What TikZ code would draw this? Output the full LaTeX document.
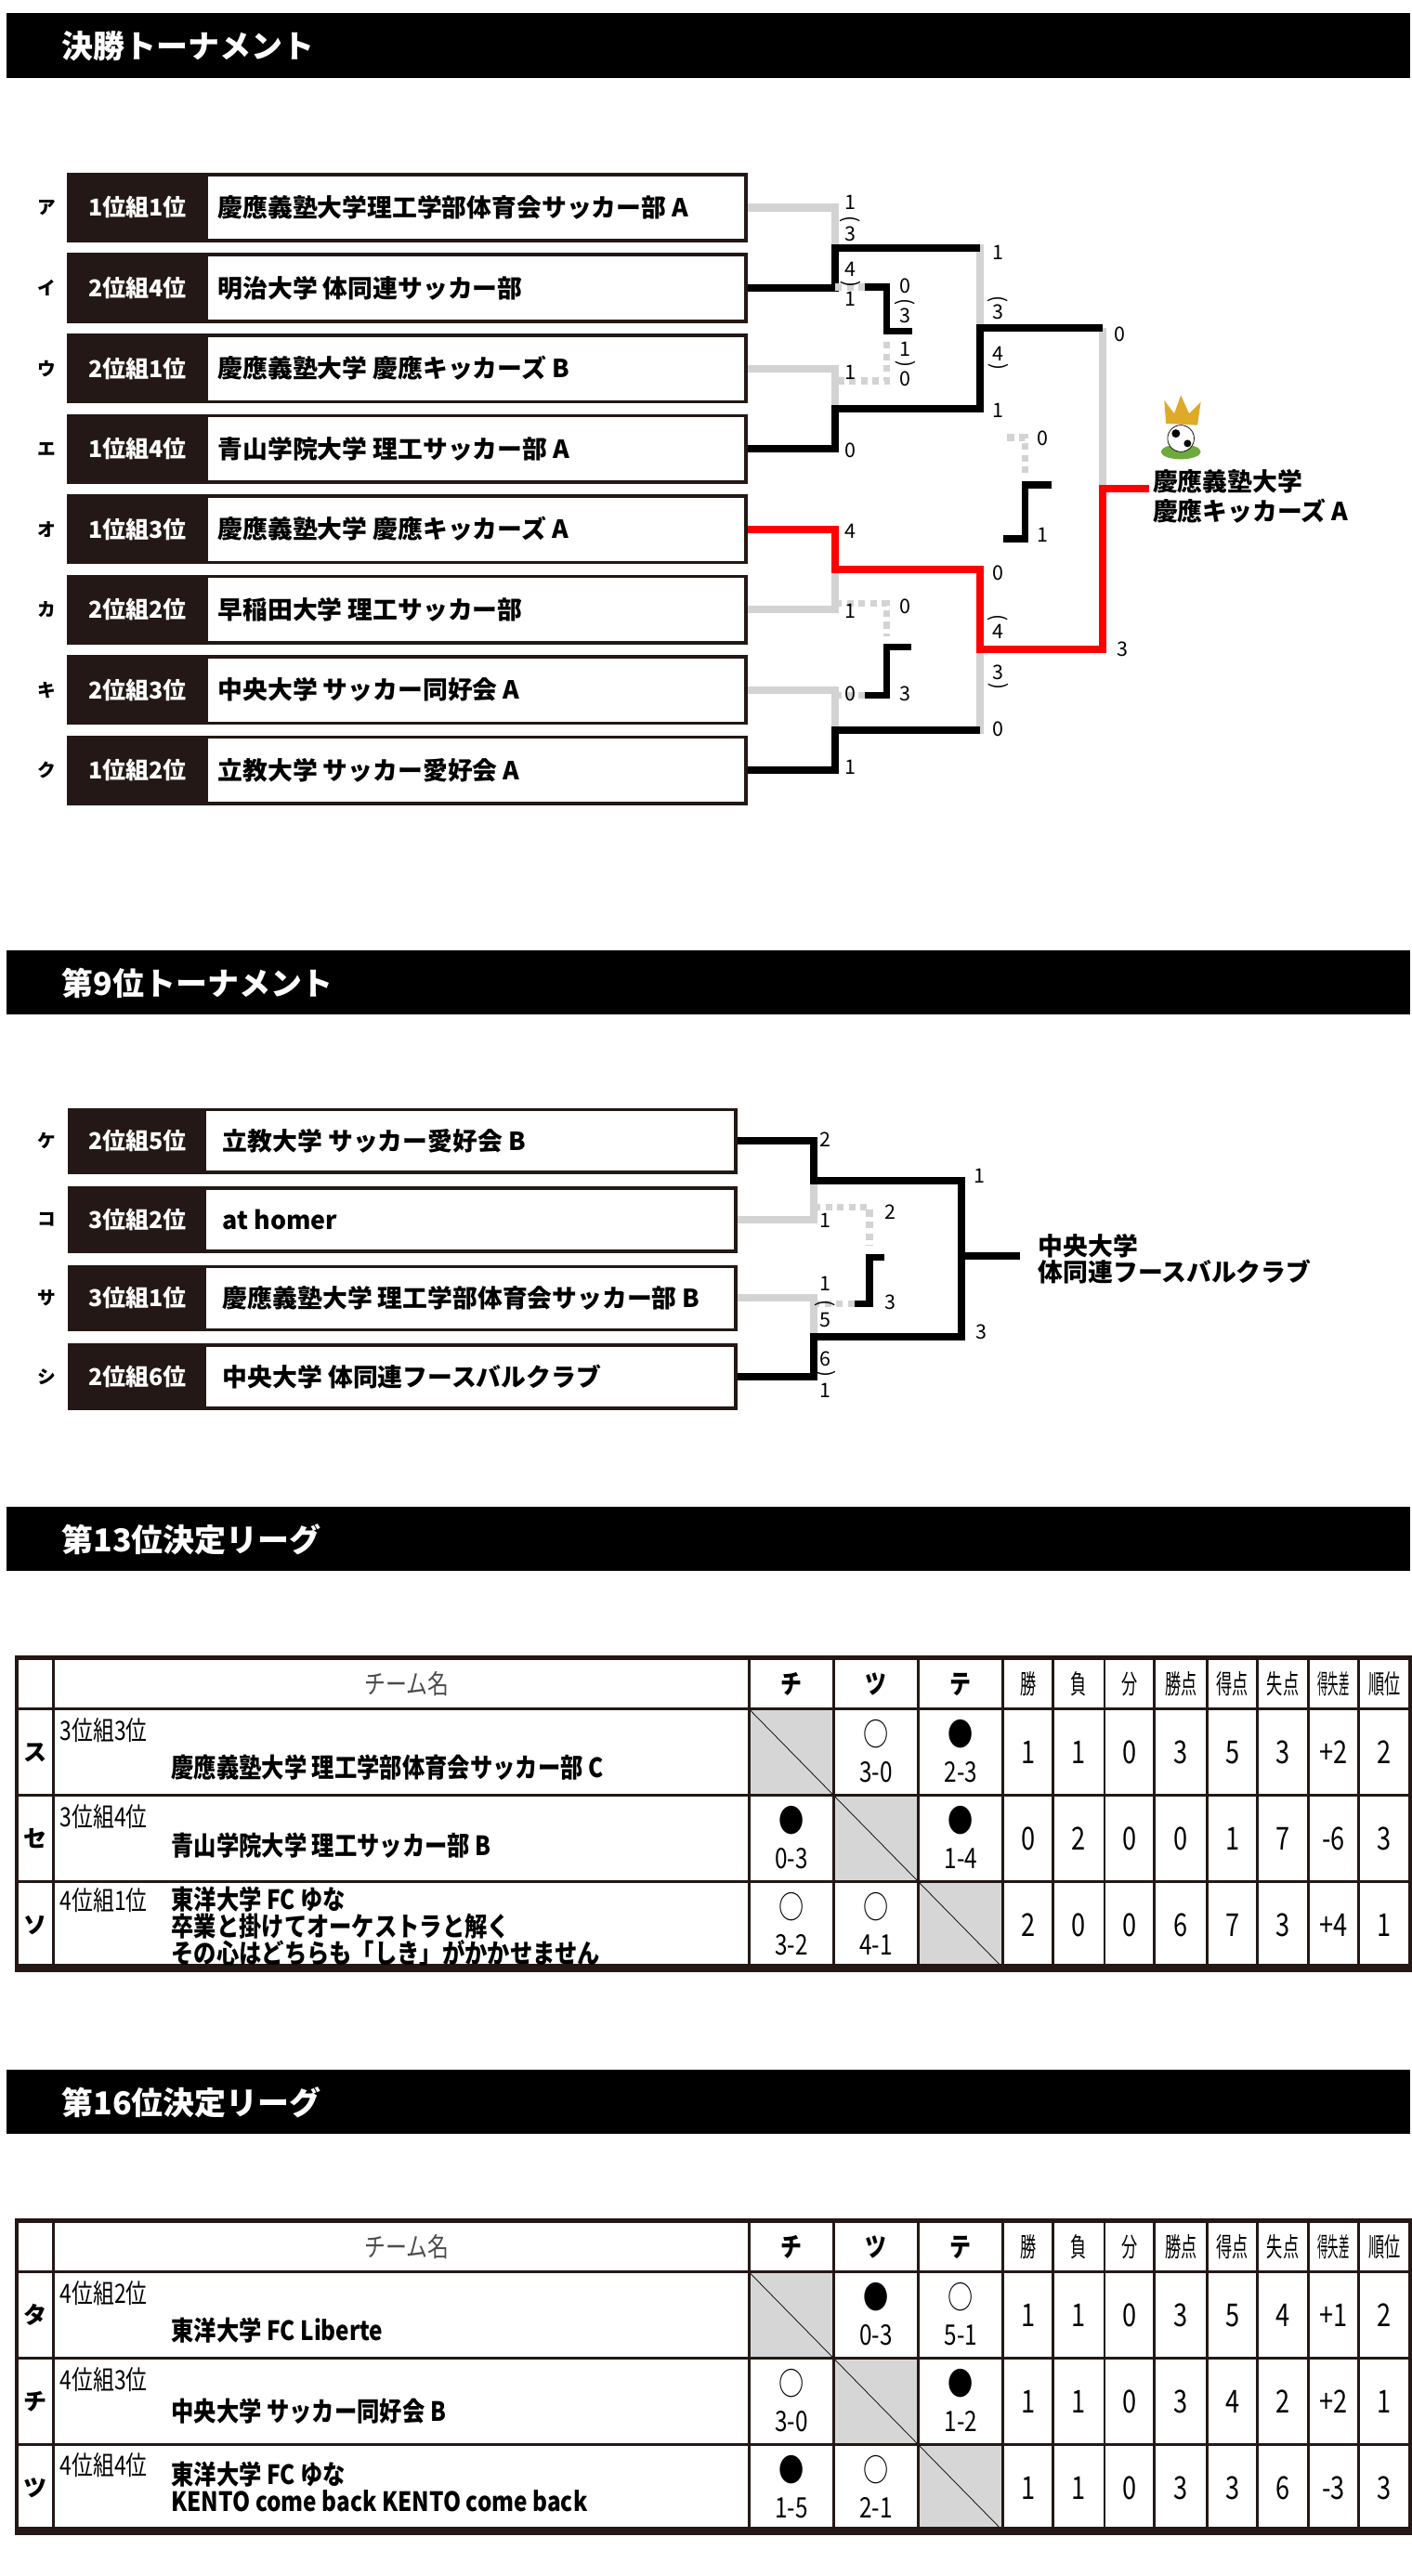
\documentclass[tikz,border=0pt]{standalone}
\usepackage{fontspec}
\setmainfont{Noto Sans CJK JP}
\usetikzlibrary{positioning}
\definecolor{boxc}{RGB}{35,24,21}
\definecolor{lgray}{RGB}{211,211,211}
\definecolor{cellgray}{RGB}{214,214,214}
\definecolor{crowngold}{RGB}{222,170,40}
\definecolor{turf}{RGB}{110,170,60}

\newcommand\pkopen{\rotatebox{-90}{(}}
\newcommand\pkclose{\rotatebox{90}{(}}

\tikzset{
  bartext/.style={text=white,font=\bfseries\fontsize{19}{19}\selectfont,anchor=west,inner sep=0},
  seedbox/.style={fill=boxc,text=white,font=\bfseries\fontsize{14}{14}\selectfont,anchor=west,inner sep=0},
  teambox/.style={draw=boxc,line width=2pt,anchor=west,inner sep=0},
  teamtext/.style={font=\bfseries\fontsize{15}{15}\selectfont,anchor=west,inner sep=0},
  lettertext/.style={font=\bfseries\fontsize{11}{11}\selectfont,inner sep=0},
  sc/.style={font=\fontsize{12}{12}\selectfont,inner sep=0},
  win/.style={line width=4.5pt,black},
  lose/.style={line width=4.5pt,lgray},
  champ/.style={line width=4.5pt,red},
  pkwin/.style={line width=4pt,black},
  pklose/.style={line width=4pt,lgray,dash pattern=on 4pt off 3pt},
  tx/.style={font=\fontsize{15}{15}\selectfont,inner sep=0,xscale=.8},
  txb/.style={font=\bfseries\fontsize{16}{16}\selectfont,inner sep=0,xscale=.85,anchor=west},
  gridline/.style={line width=1.6pt,boxc},
}

% mark and score of one match cell
\newcommand\res[5]{%
  \node[tx,font=\fontsize{19}{19}\selectfont] (#1a) at (#2,#3+15) {#4};
  \node[tx,font=\fontsize{17}{17}\selectfont] (#1b) at (#2,#3+38) {#5};}
% wins, losses, draws, points, goals for, against, difference, rank
\newcommand\stats[9]{%
  \foreach \v/\x [count=\j] in {#2/619,#3/649.5,#4/680,#5/711,#6/742,#7/772.5,#8/803,#9/833.5}
    \node[tx,font=\fontsize{19}{19}\selectfont] (st#1-\j) at (\x,#1+26) {\v};}
\newcommand\tgrid[2]{%
  \fill[cellgray] (451,#1+31) rectangle (502,#1+83);
  \fill[cellgray] (502,#1+83) rectangle (553,#1+135);
  \fill[cellgray] (553,#1+135) rectangle (604,#1+187);
  \draw[thin] (451,#1+31) -- (604,#1+187);
  \foreach \x in {32,451,502,553,604,634,665,695,727,757,788,818}
    \draw[gridline] (\x,#1) -- (\x,#1+187);
  \foreach \d in {31,83,135}
    \draw[gridline] (10,#1+\d) -- (849,#1+\d);
  \draw[line width=2.5pt,boxc] (10,#1) rectangle (849,#1+187);
  \draw[line width=5pt,boxc] (8.75,#1+187) -- (850.25,#1+187);
  \node[tx,text=black!70,font=\fontsize{16}{16}\selectfont] (#2h0) at (245,#1+16) {チーム名};
  \foreach \t/\x [count=\j] in {チ/476.5,ツ/527.5,テ/578.5}
    \node[tx,font=\bfseries\fontsize{16}{16}\selectfont] (#2h\j) at (\x,#1+16) {\t};
  \foreach \t/\x [count=\j] in {勝/619,負/649.5,分/680,勝点/711,得点/742,失点/772.5,順位/833.5}
    \node[tx,xscale=.75,font=\fontsize{16}{16}\selectfont] (#2c\j) at (\x,#1+16) {\t};
  \node[tx,xscale=.5,font=\fontsize{16}{16}\selectfont] (#2c8) at (803,#1+16) {得失差};
}

\begin{document}
\begin{tikzpicture}[x=1pt,y=-1pt]
\useasboundingbox (0,0) rectangle (850,1551);
\fill[white] (0,0) rectangle (850,1551);

% section bars
\foreach \y/\t [count=\i] in {8/決勝トーナメント,572/第9位トーナメント,907/第13位決定リーグ,1246/第16位決定リーグ}{
  \fill (4,\y) rectangle (849,\y+39);
  \node[bartext] (h\i) at (37,\y+20) {\t};
}

% final tournament rows
\foreach \k/\s/\t [count=\i] in {ア/1位組1位/{慶應義塾大学理工学部体育会サッカー部 A},イ/2位組4位/{明治大学 体同連サッカー部},ウ/2位組1位/{慶應義塾大学 慶應キッカーズ B},エ/1位組4位/{青山学院大学 理工サッカー部 A},オ/1位組3位/{慶應義塾大学 慶應キッカーズ A},カ/2位組2位/{早稲田大学 理工サッカー部},キ/2位組3位/{中央大学 サッカー同好会 A},ク/1位組2位/{立教大学 サッカー愛好会 A}}{
  \pgfmathsetmacro\y{125+48.4*(\i-1)}
  \node[seedbox,minimum width=85,minimum height=40] (s\i) at (40,\y) {\s};
  \node[teambox,minimum width=408,minimum height=40] (r\i) at (40,\y) {};
  \node[teamtext] (t\i) at (131,\y) {\t};
  \node[lettertext] (k\i) at (28,\y) {\k};
}

% final bracket
\draw[lose] (r1.east) -| (503,149.2) -- (590,149.2) -- (590,197.6);
\draw[lose] (r3.east) -| (503,246);
\draw[lose] (r6.east) -| (503,342.8);
\draw[lose] (r7.east) -| (503,439.6) -- (590,439.6) -- (590,391.2);
\draw[lose] (664,197.6) -- (664,294.4);
\draw[win] (r2.east) -| (503,149.2) -- (590,149.2);
\draw[win] (r4.east) -| (503,246) -- (590,246) -- (590,197.6) -- (664,197.6);
\draw[win] (r8.east) -| (503,439.6) -- (590,439.6);
\coordinate (champ1) at (692,294.4);
\draw[champ] (r5.east) -| (503,342.8) -- (590,342.8) -- (590,391.2) -- (664,391.2) -- (664,294.4) -- (champ1);
% small brackets
\draw[pklose] (503,172.8) -- (520.5,172.8);
\draw[pkwin] (520.5,172.8) -- (534,172.8) -- (534,199.6) -- (549,199.6);
\draw[pklose] (534,206) -- (534,229.3) -- (503,229.3);
\draw[pklose] (606.5,263.4) -- (617,263.4) -- (617,285.4);
\draw[pkwin] (633.3,292) -- (617,292) -- (617,324.4) -- (603.8,324.4);
\draw[pklose] (503,363.4) -- (534,363.4) -- (534,382.9);
\draw[pkwin] (548.7,389.7) -- (534,389.7) -- (534,418.7) -- (520.6,418.7);
\draw[pklose] (520.6,418.7) -- (503,418.7);

\foreach \x/\y/\t [count=\i] in {512/122/1,512/132/{\pkopen},512/141/3,512/162/4,512/171/{\pkclose},512/180/1,
  545/172/0,545/182/{\pkopen},545/190/3,545/210/1,545/219/{\pkclose},545/228/0,512/224/1,512/271/0,
  601/152/1,601/180/{\pkopen},601/188/3,601/213/4,601/221/{\pkclose},601/247/1,674/201/0,628/264/0,628/322/1,
  512/320/4,512/368/1,545/365/0,545/418/3,512/418/0,512/462/1,
  601/345/0,601/372/{\pkopen},601/380/4,601/405/3,601/413/{\pkclose},601/439/0,676/391/3}
  \node[sc] (fs\i) at (\x,\y) {\t};

% champion icon
\fill[turf] (711,272) ellipse (12 and 4.5);
\draw[fill=white] (711,264) circle (8);
\fill (708,261) circle (2.5) (715,267) circle (2.2);
\fill[crowngold] (702,255) -- (701,241) -- (707,249) -- (711,238) -- (716,249) -- (723,242) -- (721,256) -- cycle;
\node[teamtext,align=left,font=\bfseries\fontsize{15}{18}\selectfont] (w1) at (694,299) {慶應義塾大学\\慶應キッカーズ A};

% 9th place rows
\foreach \k/\s/\t [count=\i] in {ケ/2位組5位/{立教大学 サッカー愛好会 B},コ/3位組2位/{at homer},サ/3位組1位/{慶應義塾大学 理工学部体育会サッカー部 B},シ/2位組6位/{中央大学 体同連フースバルクラブ}}{
  \pgfmathsetmacro\y{687+47.3*(\i-1)}
  \node[seedbox,minimum width=83,minimum height=38] (ns\i) at (41,\y) {\s};
  \node[teambox,minimum width=401,minimum height=38] (q\i) at (41,\y) {};
  \node[teamtext] (nt\i) at (134,\y) {\t};
  \node[lettertext] (nk\i) at (28,\y) {\k};
}
\draw[lose] (q2.east) -| (490,711);
\draw[lose] (q3.east) -| (490,805);
\draw[lose] (579,711) -- (579,756);
\coordinate (champ2) at (614,756);
\draw[win] (q1.east) -| (490,711) -- (579,711) -- (579,756) -- (champ2);
\draw[win] (q4.east) -| (490,805) -- (579,805) -- (579,756);
\draw[pklose] (490,727) -- (523.5,727) -- (523.5,750);
\draw[pkwin] (532.5,757) -- (523.5,757) -- (523.5,785) -- (514.5,785);
\draw[pklose] (514.5,785) -- (490,785);
\foreach \x/\y/\t [count=\i] in {497/686/2,497/735/1,536/730/2,536/784/3,497/773/1,497/785/{\pkopen},497/795/5,
  497/818/6,497/827/{\pkclose},497/837/1,590/708/1,591/802/3}
  \node[sc] (ns\i) at (\x,\y) {\t};
\node[teamtext,align=left,font=\bfseries\fontsize{15}{16}\selectfont] (w2) at (625,758) {中央大学\\体同連フースバルクラブ};

% 13th place league
\tgrid{998}{a}
\foreach \k/\y [count=\i] in {ス/1055,セ/1107,ソ/1159}
  \node[lettertext,font=\bfseries\fontsize{14}{14}\selectfont] (ak\i) at (21,\y) {\k};
\node[tx,anchor=west,font=\fontsize{16}{16}\selectfont] (ag1) at (36,1042) {3位組3位};
\node[txb] (an1) at (103,1064) {慶應義塾大学 理工学部体育会サッカー部 C};
\res{ar1}{527.5}{1029}{○}{3-0}
\res{ar2}{578.5}{1029}{●}{2-3}
\stats{1029}{1}{1}{0}{3}{5}{3}{+2}{2}
\node[tx,anchor=west,font=\fontsize{16}{16}\selectfont] (ag2) at (36,1094) {3位組4位};
\node[txb] (an2) at (103,1111) {青山学院大学 理工サッカー部 B};
\res{ar3}{476.5}{1081}{●}{0-3}
\res{ar4}{578.5}{1081}{●}{1-4}
\stats{1081}{0}{2}{0}{0}{1}{7}{-6}{3}
\node[tx,anchor=west,font=\fontsize{16}{16}\selectfont] (ag3) at (36,1144) {4位組1位};
\node[txb,align=left,font=\bfseries\fontsize{16}{13.5}\selectfont,anchor=north west] (an3) at (103,1135.5) {東洋大学 FC ゆな\\卒業と掛けてオーケストラと解く\\その心はどちらも「しき」がかかせません};
\res{ar5}{476.5}{1133}{○}{3-2}
\res{ar6}{527.5}{1133}{○}{4-1}
\stats{1133}{2}{0}{0}{6}{7}{3}{+4}{1}

% 16th place league
\tgrid{1337}{b}
\foreach \k/\y [count=\i] in {タ/1394,チ/1446,ツ/1498}
  \node[lettertext,font=\bfseries\fontsize{14}{14}\selectfont] (bk\i) at (21,\y) {\k};
\node[tx,anchor=west,font=\fontsize{16}{16}\selectfont] (bg1) at (36,1381) {4位組2位};
\node[txb] (bn1) at (103,1403) {東洋大学 FC Liberte};
\res{br1}{527.5}{1368}{●}{0-3}
\res{br2}{578.5}{1368}{○}{5-1}
\stats{1368}{1}{1}{0}{3}{5}{4}{+1}{2}
\node[tx,anchor=west,font=\fontsize{16}{16}\selectfont] (bg2) at (36,1433) {4位組3位};
\node[txb] (bn2) at (103,1452) {中央大学 サッカー同好会 B};
\res{br3}{476.5}{1420}{○}{3-0}
\res{br4}{578.5}{1420}{●}{1-2}
\stats{1420}{1}{1}{0}{3}{4}{2}{+2}{1}
\node[tx,anchor=west,font=\fontsize{16}{16}\selectfont] (bg3) at (36,1484) {4位組4位};
\node[txb,align=left,font=\bfseries\fontsize{16}{16}\selectfont,anchor=north west] (bn3) at (103,1482) {東洋大学 FC ゆな\\KENTO come back KENTO come back};
\res{br5}{476.5}{1472}{●}{1-5}
\res{br6}{527.5}{1472}{○}{2-1}
\stats{1472}{1}{1}{0}{3}{3}{6}{-3}{3}
\end{tikzpicture}
\end{document}
